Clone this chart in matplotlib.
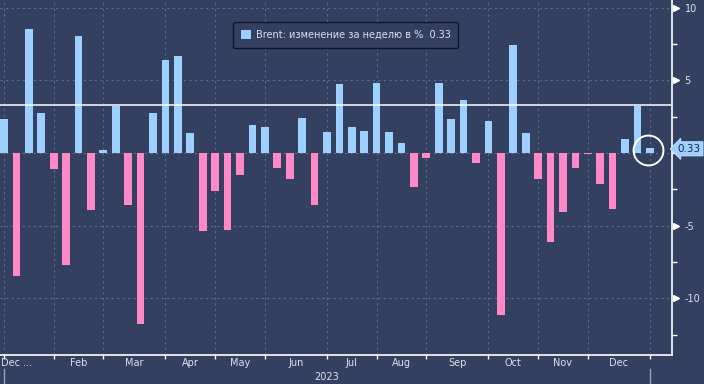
import numpy as np
import matplotlib.pyplot as plt
from matplotlib.patches import Patch
from matplotlib.transforms import blended_transform_factory, offset_copy

# Weekly Brent change, %
weekly_change = [2.34, -8.5, 8.52, 2.75, -1.08, -7.74, 8.06, -3.9, 0.2, 3.25,
                 -3.55, -11.8, 2.75, 6.39, 6.67, 1.37, -5.34, -2.59, -5.27, -1.49,
                 1.92, 1.79, -1.01, -1.77, 2.41, -3.55, 1.44, 4.74, 1.79, 1.51,
                 4.81, 1.44, 0.69, -2.32, -0.32, 4.81, 2.34, 3.64, -0.67, 2.2,
                 -11.18, 7.42, 1.37, -1.77, -6.16, -4.03, -1.01, -0.07, -2.11, -3.83,
                 0.96, 3.23, 0.33]
# week index where each month starts
month_starts = [0, 4, 8, 13, 17, 21, 26, 30, 34, 39, 43, 47, 52]
month_labels = ['Dec ...', 'Feb', 'Mar', 'Apr', 'May', 'Jun', 'Jul', 'Aug',
                'Sep', 'Oct', 'Nov', 'Dec']
year_label = '2023'
ref_level = 3.3
legend_text = 'Brent: изменение за неделю в %  0.33'

BG = '#334060'
BLUE = '#9dcfff'
PINK = '#ff88c6'
GRID = '#5b6d90'
TXT = '#dde1e8'

plt.rcParams['font.family'] = ['DejaVu Sans']

fig = plt.figure(figsize=(7.04, 3.84), dpi=100, facecolor=BG)
ax = fig.add_axes([0, 29 / 384, 672 / 704, 355 / 384], facecolor=BG)

x = np.arange(len(weekly_change))
vals = np.array(weekly_change)
colors = [BLUE if v >= 0 else PINK for v in vals]
ax.bar(x, vals, width=0.62, color=colors, zorder=3)

ax.set_xlim(-0.32, 53.78)
ax.set_ylim(-13.9, 10.52)

# grid
for m in month_starts:
    ax.axvline(m, color=GRID, lw=0.8, ls=(0, (2, 3)), zorder=1)
for yv in [-10, -5, 0, 5, 10]:
    ax.axhline(yv, color=GRID, lw=0.8, ls=(0, (2, 3)), zorder=1)

ax.axhline(ref_level, color='white', lw=1.1, zorder=4)

# spines
for s in ['top', 'left']:
    ax.spines[s].set_visible(False)
for s in ['right', 'bottom']:
    ax.spines[s].set_color('white')
    ax.spines[s].set_linewidth(1.2)

# x axis ticks
ax.set_xticks(month_starts)
ax.set_xticklabels([])
ax.tick_params(axis='x', length=3, width=1, color='white', direction='out')

trans_x = blended_transform_factory(ax.transData, ax.transAxes)
for i, lab in enumerate(month_labels):
    if i == 0:
        ax.annotate(lab, xy=(month_starts[0], 0), xycoords=trans_x,
                    xytext=(-2.5, -6), textcoords='offset points',
                    ha='left', va='center', fontsize=7, color=TXT)
    else:
        mid = (month_starts[i] + month_starts[i + 1]) / 2
        ax.annotate(lab, xy=(mid, 0), xycoords=trans_x,
                    xytext=(0, -6), textcoords='offset points',
                    ha='center', va='center', fontsize=7, color=TXT)
ax.annotate(year_label, xy=((month_starts[0] + month_starts[-1]) / 2, 0),
            xycoords=trans_x, xytext=(0, -15.5), textcoords='offset points',
            ha='center', va='center', fontsize=7, color=TXT)
for m in [month_starts[0], month_starts[-1]]:
    ax.plot([m, m], [-0.04, -0.09], transform=trans_x, color='#9aa3b5',
            lw=1, clip_on=False)

# right y axis
ax.yaxis.tick_right()
ax.set_yticks([-10, -5, 5, 10])
ax.set_yticklabels(['-10', '-5', '5', '10'])
ax.set_yticks([-12.5, -7.5, -2.5, 0, 2.5, 7.5], minor=True)
ax.tick_params(axis='y', which='major', length=0, pad=9, labelsize=7,
               labelcolor=TXT)
ax.tick_params(axis='y', which='minor', length=3.5, width=1, color='white')
trans_y = blended_transform_factory(ax.transAxes, ax.transData)
tri_tr = offset_copy(trans_y, fig=fig, x=3.5, y=0, units='dots')
ax.plot([1, 1, 1, 1], [-10, -5, 5, 10], transform=tri_tr, ls='none',
        marker='>', ms=5, color='white', clip_on=False)

# last value tag
ax.annotate(f'{vals[-1]:.2f}', xy=(1, vals[-1]), xycoords=trans_y,
            xytext=(12.5, -0.5), textcoords='offset points', ha='center',
            va='center', fontsize=7.5, color='#1b2a48',
            bbox=dict(boxstyle='larrow,pad=0.2', fc=BLUE, ec='#cfe6ff', lw=0.6))

# highlight circle on last bar
ax.plot(x[-1] - 0.15, vals[-1] * 0.55, marker='o', ms=21.5, mfc='none',
        mec='white', mew=1.4, zorder=5)

# legend
leg = ax.legend(handles=[Patch(facecolor=BLUE, edgecolor='none', label=legend_text)],
                loc='upper left', bbox_to_anchor=(0.347, 0.938), borderaxespad=0,
                fontsize=7, handlelength=1.0, handleheight=1.0, handletextpad=0.5,
                borderpad=0.8, fancybox=True, framealpha=1)
leg.get_frame().set_facecolor(BG)
leg.get_frame().set_edgecolor('#0e1628')
leg.get_frame().set_linewidth(1.0)
for t in leg.get_texts():
    t.set_color(TXT)

fig.savefig('out.png', dpi=100, facecolor=BG)
